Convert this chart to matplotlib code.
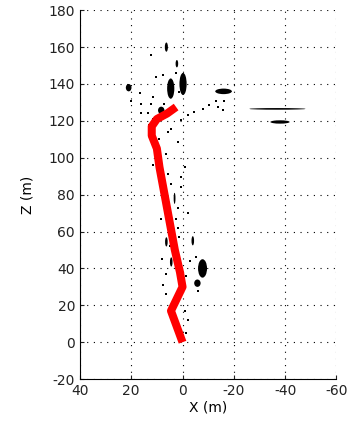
import matplotlib.pyplot as plt
from matplotlib.patches import Ellipse

plt.rcParams['axes.unicode_minus'] = False

# trajectory (red)
traj_x = [0, 4.5, 0, 1, 3, 5, 7, 9, 10, 12, 12, 10, 6, 2.5]
traj_z = [0, 17, 30, 38, 50, 65, 80, 95, 105, 112, 117, 121, 124, 127.5]

# scattered small points (black)
pts_x = [6.3, 11.5, 5.7, 4.4, 8.3, 2.4, 1.8, 7.9, -5.3, 6.3, 7.6, 6.3, -1.4,
         -2, -0.8, -1.4, 1.8, 0.5, 0.5, 1.8, 1.2,
         12.1, 16.7, 11.5, 7.6, 2.4, 16, 12.1, 7.2, 16, 13.4, 4.4, 5.7, 0.5,
         -2, -4.6, -7.9, -10.5, -13.7, -15.6, -13, -16.3, 1.2, 10.2, 11.5,
         20, 13, -3, -6, 9, 3, 9, 7, 5, -1, -2]
pts_z = [102.3, 96, 91.4, 86, 66.7, 67, 62, 45, 46, 37, 31, 26, 36,
         12, 17, 5, 108.6, 84, 89.6, 72.6, 57,
         155.6, 135, 133, 144.7, 146, 129.4, 129.4, 129.4, 124, 124, 115.8, 114, 120.3,
         123, 124.8, 126.7, 128.5, 127.5, 125.7, 130.8, 130.8, 135.7, 143.8, 121,
         131, 118, 44, 28, 110, 8, 100, 75, 52, 95, 70]

# larger blobs: centre x, centre z, width, height
blob_x = [21, 4.6, -0.2, -16, 6.3, 2.2, 8.3, -38, -7.8, -5.8, -37, 3.1, -4, 6.3, 4.4]
blob_z = [138, 137.5, 140, 136, 160, 151, 125.7, 119.4, 40, 32, 126.5, 78, 55, 54.4, 43.5]
blob_w = [2.2, 2.8, 2.8, 6.5, 1.2, 1.0, 2.5, 7.5, 3.5, 2.5, 22, 0.7, 1.0, 1.0, 1.0]
blob_h = [4, 11, 12, 3, 5, 4, 4, 1.8, 10, 4, 0.9, 6, 5, 5, 5]

fig = plt.figure(figsize=(3.49, 4.25), dpi=100)
ax = fig.add_axes([0.229, 0.108, 0.735, 0.868])

ax.scatter(pts_x, pts_z, s=3, marker='s', c='black', linewidths=0)
for bx, bz, bw, bh in zip(blob_x, blob_z, blob_w, blob_h):
    ax.add_patch(Ellipse((bx, bz), bw, bh, color='black', lw=0))

ax.plot(traj_x, traj_z, color='red', lw=5.8, solid_capstyle='butt')

ax.set_xlim(40, -60)
ax.set_ylim(-20, 180)
ax.set_xticks(range(40, -61, -20))
ax.set_yticks(range(-20, 181, 20))
ax.grid(True, color='black', linestyle=(0, (1, 5)), linewidth=0.8)
ax.spines['top'].set_visible(False)
ax.spines['right'].set_visible(False)
ax.tick_params(direction='in', length=3, labelsize=10, colors='#222222')
ax.set_xlabel('X (m)', fontsize=10, labelpad=2)
ax.set_ylabel('Z (m)', fontsize=10, labelpad=10)

fig.savefig('out.png', dpi=100)
